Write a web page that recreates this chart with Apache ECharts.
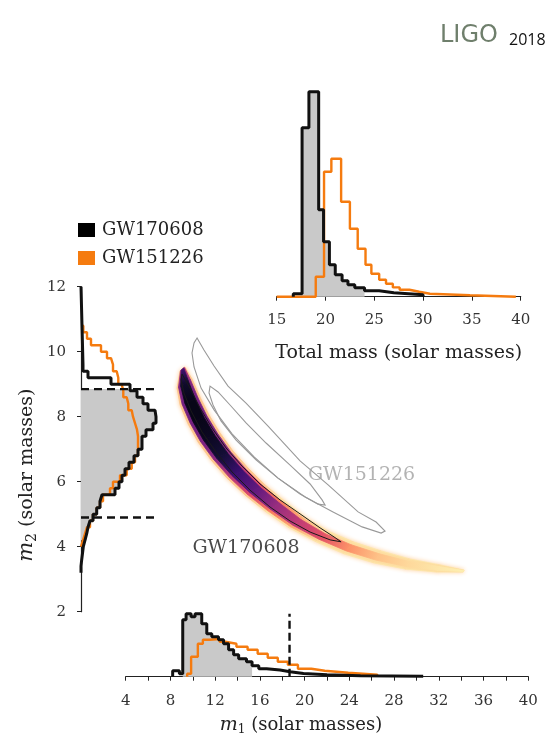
<!DOCTYPE html>
<html><head><meta charset="utf-8">
<script src="https://cdn.jsdelivr.net/npm/echarts@6/dist/echarts.min.js"></script>
<style>html,body{margin:0;padding:0;background:#fff}#c{width:552px;height:740px}</style>
</head><body><div id="c"></div>
<script>
// ---------------- data ----------------
// Total mass histograms (bin edges, bin heights in arbitrary units)
const tot170Edges = [16.7, 17.6, 18.3, 19.3, 19.8, 20.4, 21.0, 21.7, 22.3, 23.0, 24.0, 25.5, 27.0, 30.0];
const tot170Heights = [3, 169, 205, 87, 55, 32, 22, 16, 12, 9, 6, 4, 2];
const tot151Edges = [15, 19.0, 19.85, 20.6, 21.6, 22.5, 23.3, 24.1, 24.7, 25.5, 26.2, 26.9, 27.6, 28.6, 29.6, 30.7, 34.8, 39.5];
const tot151Heights = [0, 20, 125, 138, 95, 68, 48, 32, 23, 17, 13, 9.3, 7, 5, 3, 1.5, 0];
const totGrayRange = [17.6, 24.0];

// m1 histograms
const m1_170Edges = [8.2, 8.8, 9.1, 9.4, 9.85, 10.2, 10.8, 11.25, 11.7, 12.3, 12.75, 13.2, 13.65, 14.1, 14.8, 15.3, 15.9, 16.6, 17.8, 18.7, 19.9, 22, 25, 30.6];
const m1_170Heights = [6, 3, 57, 63, 60, 63, 53, 43, 40, 37, 33, 27, 22, 18, 15, 11, 8, 6.7, 5, 3.3, 2, 1, 0.5];
const m1_151Edges = [9.5, 9.85, 10.45, 10.9, 11.5, 12.4, 12.9, 13.9, 14.9, 15.8, 16.7, 17.6, 18.5, 19.4, 20.6, 21.8, 23.9, 26.5];
const m1_151Heights = [3, 20, 33, 37, 37.7, 35, 33, 30, 27, 23, 19, 15, 12, 8, 6, 4, 2];
const m1GrayRange = [9.1, 15.3];
const m1Bound = 18.65;

// m2 histograms (horizontal bars)
const m2_170Edges = [3.2,3.4,3.6,3.8,4.0,4.2,4.4,4.6,4.8,5.0,5.2,5.4,5.6,5.8,6.0,6.2,6.4,6.6,6.8,7.0,7.2,7.4,7.6,7.8,8.0,8.2,8.4,8.6,8.8,9.0,9.2,9.4,9.6,12];
const m2_170Widths = [0,0.7,1.5,2.3,4,5.7,7,9,12,15.7,19,21,34,38,41,44,48,53,57,61,61,65,72,75,74,67,62,56,49,30,7,2,0];
const m2_151Edges = [4.0,4.2,4.4,4.6,4.8,5.0,5.2,5.4,5.6,5.8,6.0,6.2,6.4,6.6,6.8,7.0,7.2,7.4,7.6,7.8,8.0,8.2,8.4,8.6,8.8,9.0,9.2,9.4,9.6,9.8,10.0,10.2,10.4,10.6,10.8];
const m2_151Widths = [2,4,6,9,12,15.7,19,22,29,32,39,45.7,50.7,54,57,57,57,56,54,52,50.7,47.3,45.7,42.3,40.7,37.3,35.7,32,30,26,20,10,6,2.3];
const m2GrayRange = [4.2, 8.85];
const m2Bounds = [8.85, 4.9];

// GW170608 2D posterior band: paired edge points [m1, m2] and density per section
const g17Upper = [[9.30,9.53],[9.93,9.16],[10.65,8.60],[11.45,8.05],[12.43,7.50],[13.60,6.94],[14.94,6.42],[16.46,5.90],[18.16,5.42],[20.04,4.91],[22.10,4.48],[24.35,4.15],[26.84,3.87],[29.43,3.62],[32.11,3.44],[34.26,3.28]];
const g17Lower = [[8.86,9.41],[8.59,8.88],[8.86,8.36],[9.57,7.78],[10.47,7.22],[11.63,6.67],[13.06,6.11],[14.67,5.59],[16.55,5.07],[18.61,4.58],[21.02,4.15],[23.53,3.78],[26.21,3.50],[29.07,3.31],[31.84,3.22],[34.17,3.22]];
const g17Density = [0.78, 0.92, 0.96, 0.96, 0.94, 0.90, 0.80, 0.71, 0.58, 0.48, 0.38, 0.23, 0.13, 0.08, 0.05, 0.03];
// GW170608 credible contour
const g17Contour = [[9.04,9.31],[9.75,8.88],[10.65,8.27],[11.72,7.65],[12.97,7.04],[14.40,6.48],[16.01,5.93],[17.80,5.44],[19.59,5.01],[21.38,4.58],[22.63,4.30],[23.26,4.15],
  [22.28,4.21],[20.49,4.45],[18.70,4.79],[16.91,5.22],[15.12,5.74],[13.51,6.30],[12.08,6.91],[10.82,7.53],[9.84,8.18],[9.21,8.73],[8.95,9.13]];
// GW151226 contours
const g15Outer = [[10.38,10.42],[11.00,10.05],[11.90,9.56],[13.15,8.94],[14.76,8.42],[16.73,7.71],[19.59,6.64],[22.10,5.90],[24.78,5.07],[26.39,4.76],[27.19,4.48],
  [26.84,4.42],[25.14,4.61],[22.54,5.07],[20.04,5.53],[17.62,6.11],[15.48,6.76],[13.51,7.47],[11.90,8.21],[10.74,8.88],[10.11,9.53],[9.93,9.96],[10.11,10.27]];
const g15Inner = [[11.54,8.94],[12.26,8.76],[13.33,8.36],[14.76,7.81],[16.55,7.19],[18.70,6.51],[20.49,5.93],[21.56,5.44],[21.83,5.28],
  [21.20,5.31],[19.59,5.62],[17.62,6.11],[15.65,6.67],[13.87,7.28],[12.52,7.87],[11.81,8.36],[11.45,8.73]];

const eventNames = ['GW170608', 'GW151226'];

// ---------------- styles ----------------
const FONT = 'DejaVu Serif';
const BLACK = '#111111';
const ORANGE = '#f57b0f';
const GRAY = '#c9c9c9';
const magma = ['#000004','#140e36','#3b0f70','#641a80','#8c2981','#b73779','#de4968','#f7705c','#fe9f6d','#fecf92','#fcfdbf'];

function hex2rgb(h){return [parseInt(h.substr(1,2),16),parseInt(h.substr(3,2),16),parseInt(h.substr(5,2),16)];}
function magmaAt(t){
  t = Math.max(0, Math.min(1, t));
  const p = t*10, i = Math.min(9, Math.floor(p)), f = p - i;
  const a = hex2rgb(magma[i]), b = hex2rgb(magma[i+1]);
  return 'rgb(' + a.map((v,k)=>Math.round(v+(b[k]-v)*f)).join(',') + ')';
}

// ---------------- builders ----------------
function stepH(edges, vals){
  const p = [[edges[0],0]];
  for (let i=0;i<vals.length;i++){ p.push([edges[i],vals[i]]); p.push([edges[i+1],vals[i]]); }
  p.push([edges[edges.length-1],0]);
  return p;
}
function stepV(edges, vals){
  const p = [[0,edges[0]]];
  for (let i=0;i<vals.length;i++){ p.push([vals[i],edges[i]]); p.push([vals[i],edges[i+1]]); }
  p.push([0,edges[edges.length-1]]);
  return p;
}
function clipBins(edges, vals, lo, hi){
  const e=[], v=[];
  for (let i=0;i<vals.length;i++){
    const a=Math.max(edges[i],lo), b=Math.min(edges[i+1],hi);
    if (b>a){ if(!e.length) e.push(a); e.push(b); v.push(vals[i]); }
  }
  return [e,v];
}
function lineSeries(name, data, xi, yi, color, width, z, dash){
  return {type:'line', name, data, xAxisIndex:xi, yAxisIndex:yi, showSymbol:false, symbol:'none', clip:false, silent:true, z,
    itemStyle:{color}, lineStyle:{color, width, type: dash || 'solid'}, emphasis:{disabled:true}};
}
function polySeries(pts, xi, yi, style, z){
  return {type:'custom', xAxisIndex:xi, yAxisIndex:yi, z, silent:true, clip:false, data:[pts[0]],
    renderItem:(params, api)=>({type:'polygon', shape:{points:pts.map(p=>api.coord(p))}, style})};
}
function lerp(a,b,f){return [a[0]+(b[0]-a[0])*f, a[1]+(b[1]-a[1])*f];}

function renderBand(params, api){
  const U = g17Upper.map(p=>api.coord(p)), L = g17Lower.map(p=>api.coord(p));
  const layers = [
    {f:0,    tf:t=>Math.min(0.95, Math.max(0.88, t+0.55)), glow:true},
    {f:0.1,  tf:t=>Math.min(0.93, t+0.3)},
    {f:0.24, tf:t=>t}
  ];
  const children = [];
  layers.forEach((ly)=>{
    for (let i=0;i<U.length-1;i++){
      const a0=lerp(U[i],L[i],ly.f), b0=lerp(L[i],U[i],ly.f), a1=lerp(U[i+1],L[i+1],ly.f), b1=lerp(L[i+1],U[i+1],ly.f);
      const m0=lerp(a0,b0,0.5), m1=lerp(a1,b1,0.5);
      const c0=magmaAt(ly.tf(1-g17Density[i])), c1=magmaAt(ly.tf(1-g17Density[i+1]));
      const grad = new echarts.graphic.LinearGradient(m0[0],m0[1],m1[0],m1[1],[{offset:0,color:c0},{offset:1,color:c1}],true);
      const style = {fill:grad, stroke:grad, lineWidth:0.8};
      if (ly.glow){ style.shadowBlur = 4; style.shadowColor = 'rgba(253,205,150,0.9)'; }
      children.push({type:'polygon', shape:{points:[a0,a1,b1,b0]}, style});
    }
  });
  return {type:'group', children};
}

// ---------------- chart ----------------
const chart = echarts.init(document.getElementById('c'), null, {renderer:'canvas'});
const axisLineStyle = {lineStyle:{color:'#222', width:1.2}};
const tickStyle = {length:4, lineStyle:{color:'#222', width:1}};
const labelStyle = {fontFamily:FONT, fontSize:15, color:'#333'};
const subRich1 = {i:{fontFamily:FONT, fontStyle:'italic', fontSize:19, color:'#222'}, s:{fontFamily:FONT, fontSize:12, color:'#222', padding:[9,0,0,0]}};
const subRich2 = {i:{fontFamily:FONT, fontStyle:'italic', fontSize:21, color:'#222'}, s:{fontFamily:FONT, fontSize:14, color:'#222', padding:[10,0,0,0]}};

const totGray = clipBins(tot170Edges, tot170Heights, totGrayRange[0], totGrayRange[1]);
const m1Gray = clipBins(m1_170Edges, m1_170Heights, m1GrayRange[0], m1GrayRange[1]);
const m2Gray = clipBins(m2_170Edges, m2_170Widths, m2GrayRange[0], m2GrayRange[1]);

const option = {
  animation:false,
  backgroundColor:'#ffffff',
  grid:[
    {left:276.7, top:91.7, width:244, height:205, outerBoundsMode:'none'},
    {left:81, top:286.7, width:80, height:325, outerBoundsMode:'none'},
    {left:125.7, top:606.7, width:402.6, height:70, outerBoundsMode:'none'},
    {left:125.7, top:286.7, width:402.6, height:325, outerBoundsMode:'none'}
  ],
  xAxis:[
    {gridIndex:0, type:'value', min:15, max:40, interval:5, axisLine:axisLineStyle, axisTick:tickStyle, splitLine:{show:false},
     axisLabel:Object.assign({margin:16}, labelStyle),
     name:'Total mass (solar masses)', nameLocation:'middle', nameGap:47, nameTextStyle:{fontFamily:FONT, fontSize:19, color:'#222'}},
    {gridIndex:1, type:'value', min:0, max:80, show:false},
    {gridIndex:2, type:'value', min:4, max:40, interval:2, axisLine:axisLineStyle, axisTick:tickStyle, splitLine:{show:false},
     axisLabel:Object.assign({margin:17, formatter:v=>(v%4===0?String(v):'')}, labelStyle),
     name:'{i|m}{s|1} (solar masses)', nameLocation:'middle', nameGap:38,
     nameTextStyle:{fontFamily:FONT, fontSize:18, color:'#222', padding:[0,52,0,0], rich:subRich1}},
    {gridIndex:3, type:'value', min:4, max:40, show:false}
  ],
  yAxis:[
    {gridIndex:0, type:'value', min:0, max:205, show:false},
    {gridIndex:1, type:'value', min:2, max:12, interval:2, axisLine:axisLineStyle, axisTick:tickStyle, splitLine:{show:false},
     axisLabel:Object.assign({margin:15}, labelStyle),
     name:'{i|m}{s|2} (solar masses)', nameLocation:'middle', nameGap:42,
     nameTextStyle:{fontFamily:FONT, fontSize:19, color:'#222', padding:[0,52,0,0], rich:subRich2}},
    {gridIndex:2, type:'value', min:0, max:70, show:false},
    {gridIndex:3, type:'value', min:2, max:12, show:false}
  ],
  legend:{
    orient:'vertical', left:73, top:216, itemWidth:17, itemHeight:14, itemGap:10, icon:'rect', selectedMode:false,
    textStyle:{fontFamily:FONT, fontSize:18, color:'#222', padding:[0,0,0,2]},
    data:[{name:eventNames[0], itemStyle:{color:'#000'}}, {name:eventNames[1], itemStyle:{color:ORANGE}}]
  },
  graphic:[
    {type:'text', left:440, top:24, style:{text:'LIGO', font:'24px "DejaVu Sans"', fill:'#6f7f6c'}},
    {type:'text', left:509, top:32, style:{text:'2018', font:'16px "Open Sans"', fill:'#111'}}
  ],
  series:[
    // total mass
    polySeries(stepH(totGray[0], totGray[1]), 0, 0, {fill:GRAY}, 1),
    lineSeries(eventNames[1], stepH(tot151Edges, tot151Heights), 0, 0, ORANGE, 2.4, 3),
    lineSeries(eventNames[0], stepH(tot170Edges, tot170Heights), 0, 0, BLACK, 3, 4),
    // m2 (left)
    polySeries(stepV(m2Gray[0], m2Gray[1]), 1, 1, {fill:GRAY}, 1),
    lineSeries(eventNames[1], stepV(m2_151Edges, m2_151Widths), 1, 1, ORANGE, 2.4, 3),
    lineSeries(eventNames[0], stepV(m2_170Edges, m2_170Widths), 1, 1, BLACK, 3, 4),
    lineSeries('bound', [[0,m2Bounds[0]],[74,m2Bounds[0]]], 1, 1, BLACK, 2.4, 5, [8,5]),
    lineSeries('bound', [[0,m2Bounds[1]],[74,m2Bounds[1]]], 1, 1, BLACK, 2.4, 5, [8,5]),
    // m1 (bottom)
    polySeries(stepH(m1Gray[0], m1Gray[1]), 2, 2, {fill:GRAY}, 1),
    lineSeries(eventNames[1], stepH(m1_151Edges, m1_151Heights), 2, 2, ORANGE, 2.4, 3),
    lineSeries(eventNames[0], stepH(m1_170Edges, m1_170Heights), 2, 2, BLACK, 3, 4),
    lineSeries('bound', [[m1Bound,0],[m1Bound,63]], 2, 2, BLACK, 2.4, 5, [8,4]),
    // 2D
    {type:'custom', xAxisIndex:3, yAxisIndex:3, z:2, silent:true, clip:false, data:[g17Upper[0]], renderItem:renderBand},
    polySeries(g17Contour, 3, 3, {fill:'none', stroke:'#1a1a1a', lineWidth:1}, 3),
    polySeries(g15Outer, 3, 3, {fill:'none', stroke:'#999', lineWidth:1.1}, 3),
    polySeries(g15Inner, 3, 3, {fill:'none', stroke:'#999', lineWidth:1.1}, 3),
    {type:'scatter', xAxisIndex:3, yAxisIndex:3, symbolSize:0, silent:true, z:6,
     data:[{name:'GW151226', value:[25.09,6.21]}],
     label:{show:true, position:'inside', formatter:'{b}', fontFamily:FONT, fontSize:19, color:'#a0a0a0'}},
    {type:'scatter', xAxisIndex:3, yAxisIndex:3, symbolSize:0, silent:true, z:6,
     data:[{name:'GW170608', value:[14.76,3.96]}],
     label:{show:true, position:'inside', formatter:'{b}', fontFamily:FONT, fontSize:19, color:'#1a1a1a'}}
  ]
};
chart.setOption(option);
</script>
</body></html>
